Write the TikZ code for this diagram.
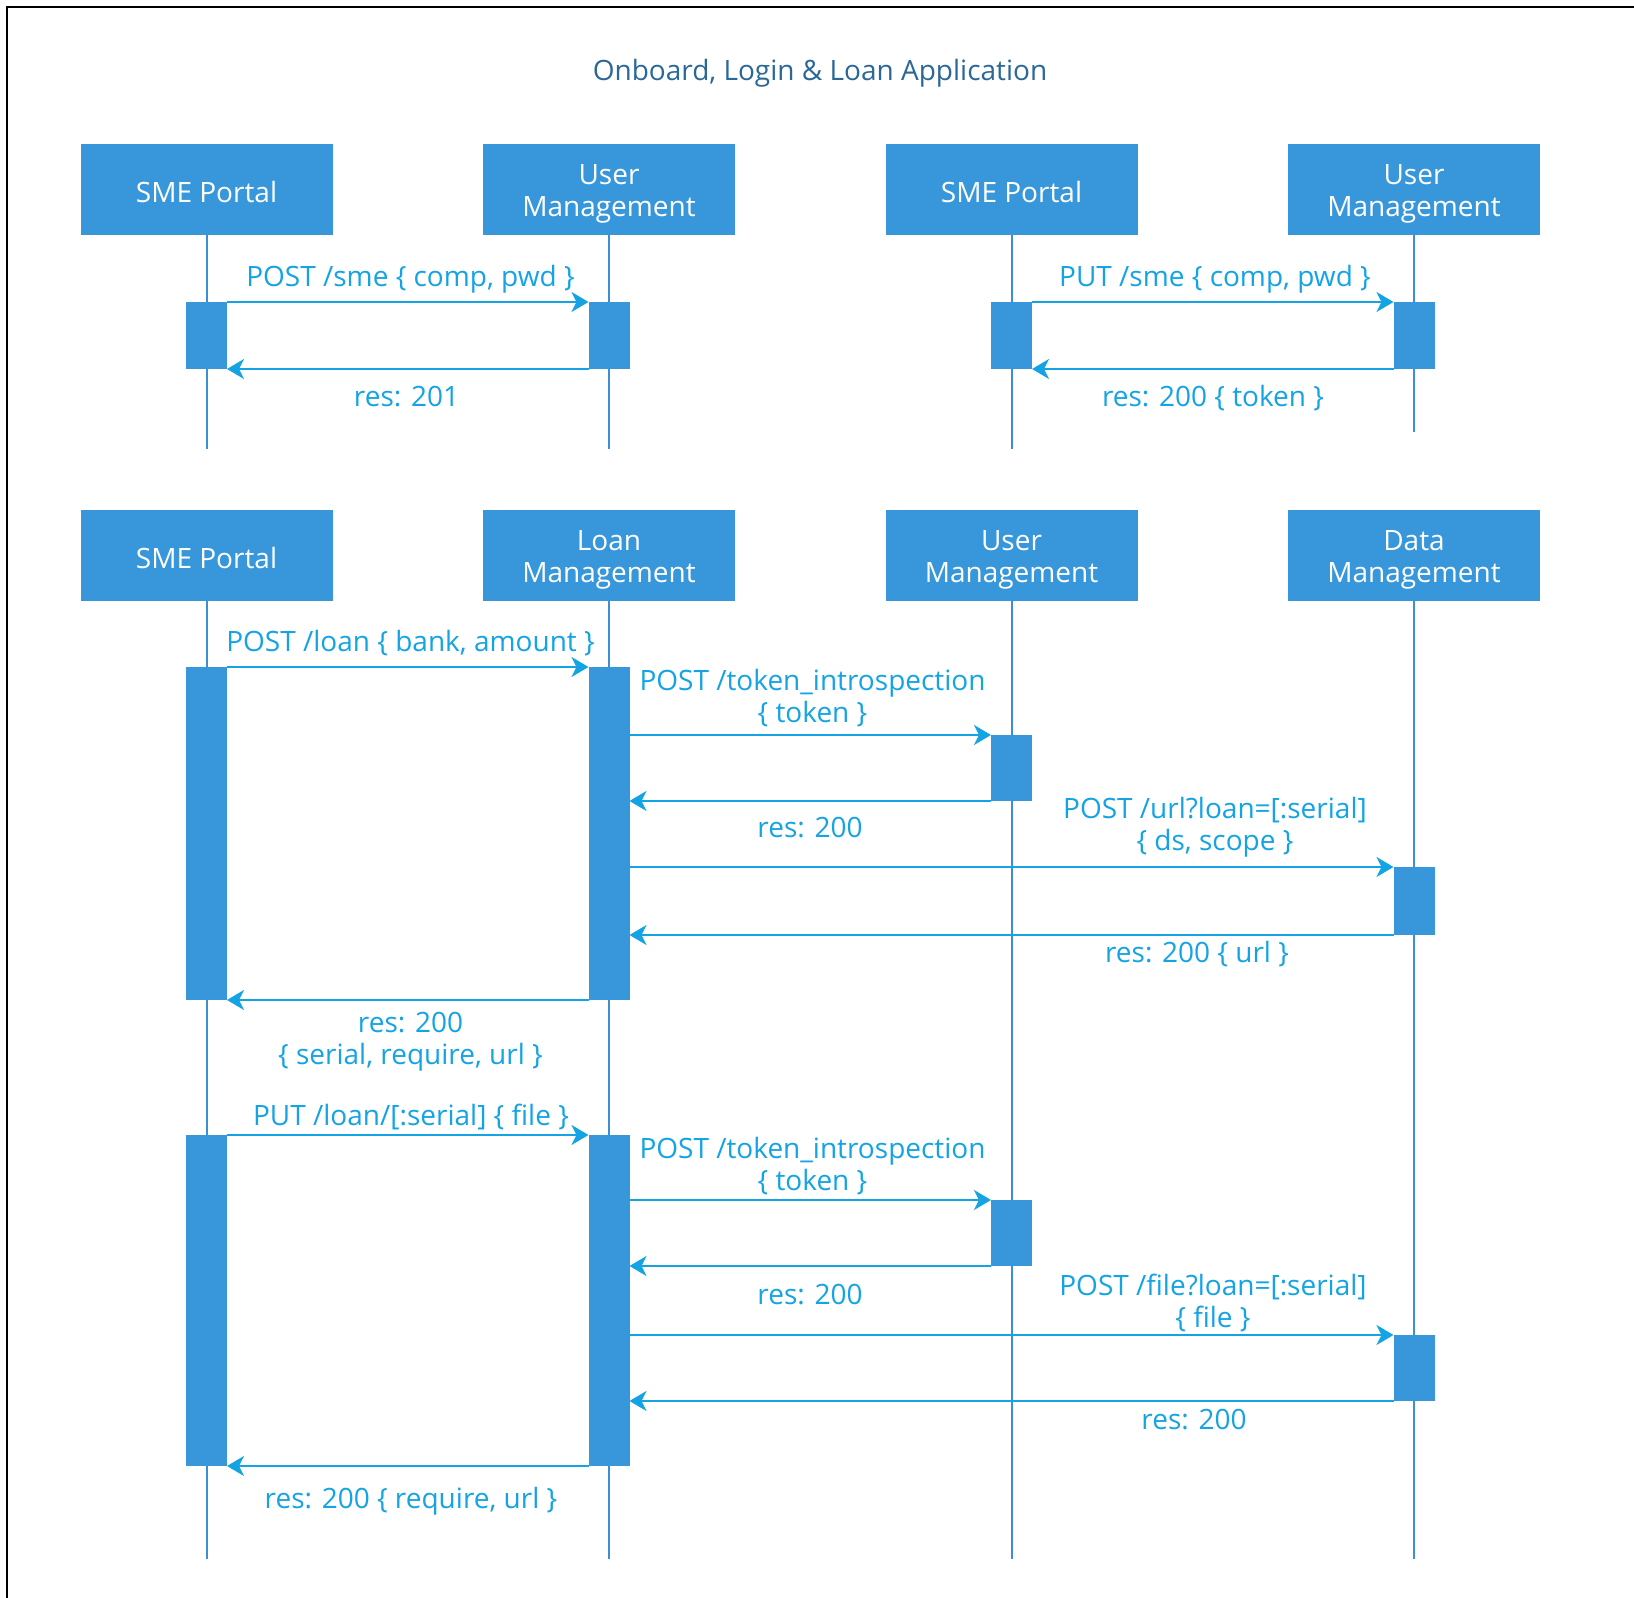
\documentclass[tikz,border=0pt]{standalone}
\usepackage{fontspec}
\setmainfont{Open Sans}
\usetikzlibrary{arrows.meta}
\definecolor{actorfill}{HTML}{3797DA}
\definecolor{lifecol}{HTML}{3A90D4}
\definecolor{msgcol}{HTML}{14A3E3}
\definecolor{titlecol}{HTML}{2B6797}

% activation bar: name, x, top y, height (pt)
\newcommand{\actbar}[4]{\node[actbarstyle, minimum height=#4] (#1) at (#2,#3) {};}
% struts that push actor captions slightly down inside their boxes
\newcommand{\onestrut}{\rule{0pt}{12.7pt}}
\newcommand{\twostrut}{\rule{0pt}{14pt}}

\begin{document}
\begin{tikzpicture}[x=0.5pt,y=-0.5pt,
  actor/.style={fill=actorfill, text=white, minimum width=126pt, minimum height=45.5pt,
    inner sep=0pt, align=center, font=\fontsize{14pt}{16pt}\selectfont},
  life/.style={draw=lifecol, line width=1pt},
  actbarstyle/.style={fill=actorfill, minimum width=20.5pt, inner sep=0pt, outer sep=0pt, anchor=north},
  msg/.style={draw=msgcol, line width=1pt, -{Stealth[length=8.5pt,width=10pt,inset=2.5pt]}},
  lbl/.style={text=msgcol, font=\fontsize{14pt}{16pt}\selectfont, align=center, anchor=base, inner sep=0pt},
]
\useasboundingbox (0,0) rectangle (1634,1598);

% frame
\draw[line width=1.1pt] (7,1620) -- (7,7) -- (1660,7);

% title
\node[text=titlecol, font=\fontsize{14pt}{16pt}\selectfont, anchor=base] (title) at (820,81)
  {Onboard, Login \& Loan Application};

% ---------- onboarding and login ----------
\node[actor] (ta1) at (206.5,189.5) {\onestrut SME Portal};
\node[actor] (ta2) at (609,189.5) {\twostrut User\\Management};
\node[actor] (ta3) at (1011.5,189.5) {\onestrut SME Portal};
\node[actor] (ta4) at (1414,189.5) {\twostrut User\\Management};

\coordinate (te1) at (206.5,449);
\coordinate (te2) at (609,449);
\coordinate (te3) at (1011.5,449);
\coordinate (te4) at (1414,432);
\draw[life] (ta1.south) -- (te1);
\draw[life] (ta2.south) -- (te2);
\draw[life] (ta3.south) -- (te3);
\draw[life] (ta4.south) -- (te4);

\actbar{tb1}{206.5}{302}{33.5pt}
\actbar{tb2}{609}{302}{33.5pt}
\actbar{tb3}{1011.5}{302}{33.5pt}
\actbar{tb4}{1414}{302}{33.5pt}

\draw[msg] (tb1.north east) -- (tb2.north west);
\draw[msg] (tb2.south west) -- (tb1.south east);
\draw[msg] (tb3.north east) -- (tb4.north west);
\draw[msg] (tb4.south west) -- (tb3.south east);

\node[lbl] (m1) at (410.5,287) {POST /sme \{ comp, pwd \}};
\node[lbl] (r1) at (406.5,407) {res: 201};
\node[lbl] (m2) at (1215,287) {PUT /sme \{ comp, pwd \}};
\node[lbl] (r2) at (1213,407) {res: 200 \{ token \}};

% ---------- loan application ----------
\node[actor] (ba1) at (206.5,555.5) {\onestrut SME Portal};
\node[actor] (ba2) at (609,555.5) {\twostrut Loan\\Management};
\node[actor] (ba3) at (1011.5,555.5) {\twostrut User\\Management};
\node[actor] (ba4) at (1414,555.5) {\twostrut Data\\Management};

\coordinate (be1) at (206.5,1559);
\coordinate (be2) at (609,1559);
\coordinate (be3) at (1011.5,1559);
\coordinate (be4) at (1414,1559);
\draw[life] (ba1.south) -- (be1);
\draw[life] (ba2.south) -- (be2);
\draw[life] (ba3.south) -- (be3);
\draw[life] (ba4.south) -- (be4);

% apply for a loan
\actbar{s1}{206.5}{667}{166.5pt}
\actbar{l1}{609}{667}{166.5pt}
\actbar{u1}{1011.5}{735}{33pt}
\actbar{d1}{1414}{867}{34pt}

\draw[msg] (s1.north east) -- (l1.north west);
\draw[msg] (l1.east |- u1.north) -- (u1.north west);
\draw[msg] (u1.south west) -- (l1.east |- u1.south);
\draw[msg] (l1.east |- d1.north) -- (d1.north west);
\draw[msg] (d1.south west) -- (l1.east |- d1.south);
\draw[msg] (l1.south west) -- (s1.south east);

\node[lbl] (m3) at (410.5,652) {POST /loan \{ bank, amount \}};
\node[lbl] (m4) at (812.5,723) {POST /token\_introspection\\\{ token \}};
\node[lbl] (r4) at (810,838) {res: 200};
\node[lbl] (m5) at (1215,851) {POST /url?loan=[:serial]\\\{ ds, scope \}};
\node[lbl] (r5) at (1197,963) {res: 200 \{ url \}};
\node[lbl] (r3) at (410.5,1064) {res: 200\\\{ serial, require, url \}};

% upload a file
\actbar{s2}{206.5}{1135}{165.5pt}
\actbar{l2}{609}{1135}{165.5pt}
\actbar{u2}{1011.5}{1200}{33pt}
\actbar{d2}{1414}{1335}{33pt}

\draw[msg] (s2.north east) -- (l2.north west);
\draw[msg] (l2.east |- u2.north) -- (u2.north west);
\draw[msg] (u2.south west) -- (l2.east |- u2.south);
\draw[msg] (l2.east |- d2.north) -- (d2.north west);
\draw[msg] (d2.south west) -- (l2.east |- d2.south);
\draw[msg] (l2.south west) -- (s2.south east);

\node[lbl] (m6) at (411,1125) {PUT /loan/[:serial] \{ file \}};
\node[lbl] (m7) at (812.5,1190) {POST /token\_introspection\\\{ token \}};
\node[lbl] (r7) at (810,1304) {res: 200};
\node[lbl] (m8) at (1213,1327) {POST /file?loan=[:serial]\\\{ file \}};
\node[lbl] (r8) at (1194,1429) {res: 200};
\node[lbl] (r6) at (411,1508) {res: 200 \{ require, url \}};

\end{tikzpicture}
\end{document}
